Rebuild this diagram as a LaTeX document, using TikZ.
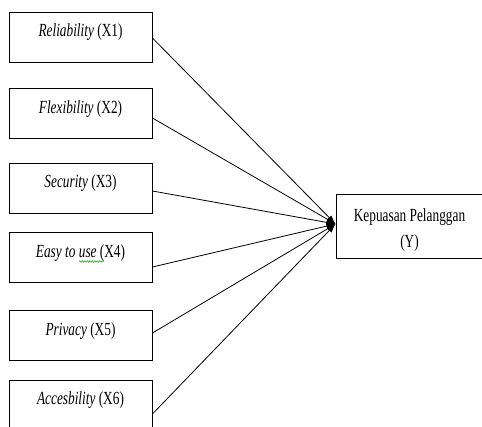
\documentclass[tikz,border=0pt]{standalone}
\usepackage{fontspec}
\setmainfont[FakeStretch=0.72]{Liberation Serif}
\usetikzlibrary{arrows.meta,decorations.pathmorphing}
\begin{document}
\begin{tikzpicture}[x=1pt,y=-1pt,
  varbox/.style={draw, line width=0.9pt, minimum width=143pt, minimum height=50pt,
    inner sep=0pt, text height=12pt, text depth=12pt,
    font=\fontsize{18.5}{20}\selectfont},
  ybox/.style={draw, line width=0.9pt, minimum width=147pt, minimum height=64pt, inner sep=0pt},
  lbl/.style={anchor=base, inner sep=0pt, font=\fontsize{18.5}{20}\selectfont},
  link/.style={line width=0.8pt, -{Latex[length=9pt,width=6pt]}},
  squiggle/.style={green!60!black, line width=0.5pt, decorate,
    decoration={snake, amplitude=0.7pt, segment length=2.5pt}}]
\useasboundingbox (0,0) rectangle (482,427);
\node[varbox] (x1) at (80.5,37)    {\textit{Reliability} (X1)};
\node[varbox] (x2) at (80.5,113.5) {\textit{Flexibility} (X2)};
\node[varbox] (x3) at (80.5,188)   {\textit{Security} (X3)};
\node[varbox] (x4) at (80.5,257.5) {\textit{Easy to use} (X4)};
\node[varbox] (x5) at (80.5,335.5) {\textit{Privacy} (X5)};
\node[varbox] (x6) at (80.5,405)   {\textit{Accesbility} (X6)};
\node[ybox] (y) at (409.5,226) {};
\node[lbl] (y1) at (409.5,222) {Kepuasan Pelanggan};
\node[lbl] (y2) at (409.5,248) {(Y)};
\coordinate (tip) at ([yshift=2pt]y.west);
\draw[link] ([yshift=-1pt]x1.east) -- (tip);
\draw[link] ([yshift=-4.5pt]x2.east) -- (tip);
\draw[link] ([yshift=-3pt]x3.east) -- (tip);
\draw[link] ([yshift=-9.5pt]x4.east) -- (tip);
\draw[link] ([yshift=2.5pt]x5.east) -- (tip);
\draw[link] ([yshift=-9pt]x6.east) -- (tip);
\coordinate (sq1) at (79,261.5);
\coordinate (sq2) at (104,261.5);
\draw[squiggle] (sq1) -- (sq2);
\end{tikzpicture}
\end{document}
